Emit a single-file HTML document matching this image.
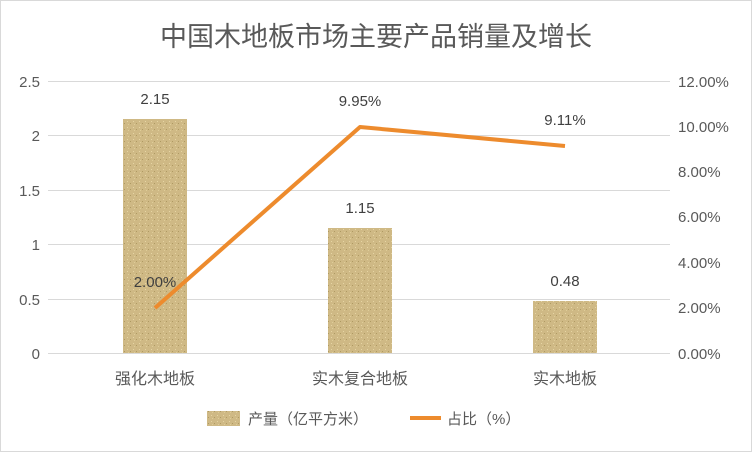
<!DOCTYPE html>
<html><head><meta charset="utf-8"><style>
body{margin:0;background:#fff;}
svg text{font-family:"Liberation Sans","Noto Sans CJK SC",sans-serif;}
</style></head><body>
<svg width="752" height="452" viewBox="0 0 752 452" xmlns="http://www.w3.org/2000/svg">
<defs>
<pattern id="p" width="6" height="6" patternUnits="userSpaceOnUse">
<rect width="6" height="6" fill="#cfb985"/>
<rect x="1" y="1" width="1" height="1" fill="#e6d5a4"/>
<rect x="4" y="3" width="1" height="1" fill="#af9a62"/>
<rect x="2" y="4" width="1" height="1" fill="#dfcd98"/>
</pattern>
</defs>
<rect width="752" height="452" fill="#fff"/>
<rect x="0.5" y="0.5" width="751" height="451" fill="none" stroke="#d9d9d9"/>
<text x="376" y="46" font-size="27" fill="#595959" text-anchor="middle" font-family="Noto Sans CJK SC">中国木地板市场主要产品销量及增长</text>
<g stroke="#d9d9d9" stroke-width="1">
<line x1="48" y1="81.5" x2="670" y2="81.5"/>
<line x1="48" y1="135.5" x2="670" y2="135.5"/>
<line x1="48" y1="190.5" x2="670" y2="190.5"/>
<line x1="48" y1="244.5" x2="670" y2="244.5"/>
<line x1="48" y1="299.5" x2="670" y2="299.5"/>
<line x1="48" y1="353.5" x2="670" y2="353.5"/>
</g>
<g font-size="15" fill="#595959" text-anchor="end">
<text x="40" y="87">2.5</text><text x="40" y="141">2</text><text x="40" y="196">1.5</text>
<text x="40" y="250">1</text><text x="40" y="305">0.5</text><text x="40" y="359">0</text>
</g>
<g font-size="15" fill="#595959" text-anchor="start">
<text x="678" y="87">12.00%</text><text x="678" y="132">10.00%</text><text x="678" y="177">8.00%</text>
<text x="678" y="222">6.00%</text><text x="678" y="268">4.00%</text><text x="678" y="313">2.00%</text><text x="678" y="359">0.00%</text>
</g>
<rect x="123" y="119" width="64" height="234" fill="url(#p)"/>
<rect x="328" y="228" width="64" height="125" fill="url(#p)"/>
<rect x="533" y="301" width="64" height="52" fill="url(#p)"/>
<polyline points="155,308 360,127 565,146" fill="none" stroke="#ed8b2d" stroke-width="4" stroke-linejoin="round"/>
<g font-size="15" fill="#404040" text-anchor="middle">
<text x="155" y="104">2.15</text><text x="360" y="213">1.15</text><text x="565" y="286">0.48</text>
<text x="155" y="287">2.00%</text><text x="360" y="106">9.95%</text><text x="565" y="125">9.11%</text>
</g>
<g font-size="16" fill="#595959" text-anchor="middle" font-family="Noto Sans CJK SC">
<text x="155" y="384">强化木地板</text><text x="360" y="384">实木复合地板</text><text x="565" y="384">实木地板</text>
</g>
<rect x="207" y="411" width="33" height="15" fill="url(#p)"/>
<text x="248" y="424" font-size="15" fill="#595959" font-family="Noto Sans CJK SC">产量（亿平方米）</text>
<line x1="410" y1="418" x2="441" y2="418" stroke="#ed8b2d" stroke-width="4"/>
<text x="447" y="424" font-size="15" fill="#595959" font-family="Noto Sans CJK SC">占比（%）</text>
</svg>
</body></html>
